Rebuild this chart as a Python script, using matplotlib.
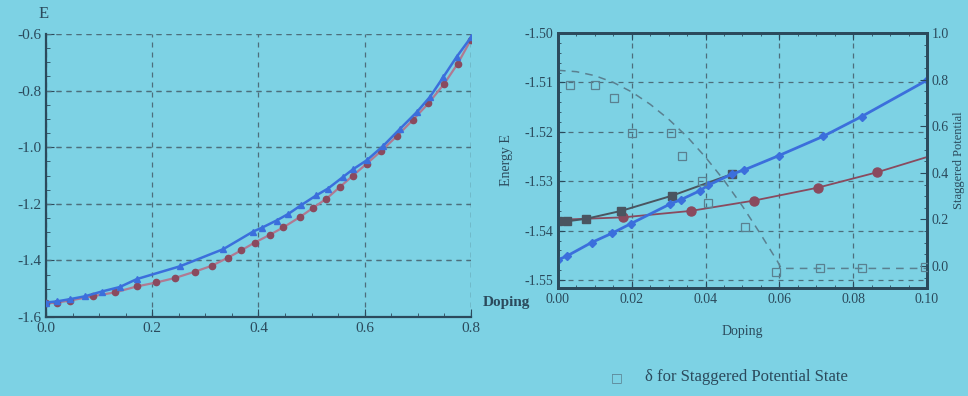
import matplotlib
matplotlib.use("Agg")
import matplotlib.pyplot as plt
from matplotlib.ticker import MultipleLocator

plt.rcParams['font.family'] = ['Liberation Serif', 'DejaVu Serif']

BG = '#7dd2e4'
INK = '#2b4a5c'
GRID = '#4d6e7c'
BLUE = '#3b6fdc'
MAROON = '#8a4a5e'
PINK = '#b07a92'
DARK = '#4a5560'
DELTA = '#5a8090'

# ---------------- left chart data ----------------
left_blue_x = [0.0, 0.02, 0.045, 0.073, 0.105, 0.139, 0.171, 0.252, 0.334, 0.39, 0.406,
               0.434, 0.456, 0.481, 0.509, 0.531, 0.56, 0.578, 0.604, 0.635, 0.666,
               0.698, 0.723, 0.748, 0.773, 0.8]
left_blue_y = [-1.549, -1.545, -1.537, -1.527, -1.510, -1.494, -1.466, -1.421, -1.360,
               -1.298, -1.285, -1.259, -1.236, -1.204, -1.170, -1.146, -1.104, -1.078,
               -1.046, -0.995, -0.936, -0.876, -0.822, -0.752, -0.681, -0.612]
left_red_x = [0.0, 0.02, 0.045, 0.089, 0.13, 0.171, 0.208, 0.243, 0.28, 0.312, 0.343,
              0.368, 0.393, 0.422, 0.447, 0.478, 0.503, 0.528, 0.553, 0.578, 0.604,
              0.63, 0.66, 0.69, 0.72, 0.75, 0.775, 0.8]
left_red_y = [-1.552, -1.549, -1.542, -1.526, -1.513, -1.492, -1.478, -1.462, -1.440,
              -1.419, -1.390, -1.364, -1.337, -1.309, -1.283, -1.247, -1.214, -1.182,
              -1.141, -1.100, -1.058, -1.015, -0.962, -0.905, -0.845, -0.775, -0.705,
              -0.62]
left_xticks = [0.0, 0.2, 0.4, 0.6, 0.8]
left_xticklabels = ['0.0', '0.2', '0.4', '0.6', '0.8']
left_yticks = [-1.6, -1.4, -1.2, -1.0, -0.8, -0.6]
left_yticklabels = ['-1.6', '-1.4', '-1.2', '-1.0', '-0.8', '-0.6']

# ---------------- right chart data ----------------
r_blue_x = [0.0, 0.0025, 0.0091, 0.0147, 0.0197, 0.0304, 0.0334, 0.0385, 0.0407,
            0.0473, 0.0505, 0.0599, 0.0719, 0.0823, 0.0999]
r_blue_y = [-1.5459, -1.5451, -1.5424, -1.5405, -1.5386, -1.5346, -1.5337, -1.5319,
            -1.5308, -1.5285, -1.5277, -1.5248, -1.5209, -1.5169, -1.5096]
r_dark_x = [0.0001, 0.0025, 0.0076, 0.0171, 0.031, 0.0473]
r_dark_y = [-1.5381, -1.5381, -1.5376, -1.5360, -1.5329, -1.5285]
r_red_x = [0.0, 0.0177, 0.036, 0.0532, 0.0704, 0.0864, 0.10]
r_red_y = [-1.5378, -1.5373, -1.5360, -1.5339, -1.5313, -1.5282, -1.5251]
r_red_marker_x = [0.0177, 0.036, 0.0532, 0.0704, 0.0864]
r_red_marker_y = [-1.5373, -1.5360, -1.5339, -1.5313, -1.5282]
delta_x = [0.0033, 0.0100, 0.0153, 0.0200, 0.0306, 0.0337, 0.0390, 0.0407, 0.0507,
           0.0591, 0.0710, 0.0823, 0.0995]
delta_y = [0.777, 0.777, 0.723, 0.571, 0.571, 0.472, 0.366, 0.269, 0.167,
           -0.024, -0.009, -0.009, -0.003]
delta_fit_x = [0.0, 0.005, 0.01, 0.015, 0.02, 0.025, 0.03, 0.035, 0.04, 0.045, 0.05,
               0.055, 0.0595, 0.0605, 0.10]
delta_fit_y = [0.84, 0.834, 0.817, 0.788, 0.747, 0.694, 0.63, 0.555, 0.467, 0.368,
               0.257, 0.135, 0.02, -0.01, -0.01]
right_xticks = [0.0, 0.02, 0.04, 0.06, 0.08, 0.10]
right_xticklabels = ['0.00', '0.02', '0.04', '0.06', '0.08', '0.10']
right_yticks = [-1.55, -1.54, -1.53, -1.52, -1.51, -1.50]
right_yticklabels = ['-1.55', '-1.54', '-1.53', '-1.52', '-1.51', '-1.50']
twin_yticks = [0.0, 0.2, 0.4, 0.6, 0.8, 1.0]
twin_yticklabels = ['0.0', '0.2', '0.4', '0.6', '0.8', '1.0']

fig = plt.figure(figsize=(9.68, 3.96), dpi=100, facecolor=BG)

# ---------------- left chart ----------------
ax1 = fig.add_axes([0.0475, 0.1995, 0.439, 0.7146])
ax1.set_facecolor(BG)
ax1.set_xlim(0, 0.8)
ax1.set_ylim(-1.6, -0.6)
for s in ['top', 'right']:
    ax1.spines[s].set_visible(False)
for s in ['left', 'bottom']:
    ax1.spines[s].set_color(INK)
    ax1.spines[s].set_linewidth(1.6)
ax1.set_xticks(left_xticks)
ax1.set_xticklabels(left_xticklabels)
ax1.set_yticks(left_yticks)
ax1.set_yticklabels(left_yticklabels)
ax1.xaxis.set_minor_locator(MultipleLocator(0.05))
ax1.yaxis.set_minor_locator(MultipleLocator(0.05))
ax1.tick_params(which='both', direction='in', colors=INK, labelsize=11)
ax1.tick_params(which='major', length=6)
ax1.tick_params(which='minor', length=3)
ax1.grid(True, which='major', linestyle=(0, (4, 4)), color=GRID, linewidth=0.9)
for v in left_yticks[1:]:
    ax1.axhline(v, color=GRID, linestyle=(0, (4, 4)), linewidth=0.9)
ax1.axvline(0.8, color=GRID, linestyle=(0, (4, 4)), linewidth=0.9)
ax1.plot(left_red_x, left_red_y, color=PINK, linewidth=1.6, zorder=3)
ax1.plot(left_red_x, left_red_y, linestyle='none', marker='o', markersize=4.5,
         color=MAROON, zorder=4)
ax1.plot(left_blue_x, left_blue_y, color=BLUE, linewidth=1.8, zorder=5)
ax1.plot(left_blue_x, left_blue_y, linestyle='none', marker='^', markersize=5,
         color=BLUE, zorder=6)
fig.text(0.045, 0.965, 'E', color=INK, fontsize=12, ha='center', va='center')
fig.text(0.499, 0.235, 'Doping', color=INK, fontsize=11, fontweight='bold',
         ha='left', va='center')

# ---------------- right chart ----------------
ax2 = fig.add_axes([0.5764, 0.2727, 0.3812, 0.644])
ax2.set_facecolor(BG)
ax2.set_xlim(0, 0.10)
ax2.set_ylim(-1.5516, -1.50)
for s in ax2.spines.values():
    s.set_color(INK)
    s.set_linewidth(2.0)
ax2.set_xticks(right_xticks)
ax2.set_xticklabels(right_xticklabels)
ax2.set_yticks(right_yticks)
ax2.set_yticklabels(right_yticklabels)
ax2.xaxis.set_minor_locator(MultipleLocator(0.005))
ax2.yaxis.set_minor_locator(MultipleLocator(0.002))
ax2.tick_params(which='both', direction='in', colors=INK, labelsize=10)
ax2.tick_params(which='both', top=True, right=False)
ax2.tick_params(which='major', length=5)
ax2.tick_params(which='minor', length=2.5)
ax2.grid(True, which='major', linestyle=(0, (4, 4)), color=GRID, linewidth=0.9)
ax2.set_xlabel('Doping', color=INK, fontsize=10, labelpad=14)
ax2.set_ylabel('Energy E', color=INK, fontsize=10, labelpad=8)

ax3 = ax2.twinx()
ax3.set_ylim(-0.094, 1.0)
ax3.set_yticks(twin_yticks)
ax3.set_yticklabels(twin_yticklabels)
ax3.yaxis.set_minor_locator(MultipleLocator(0.05))
ax3.tick_params(which='both', direction='in', colors=INK, labelsize=10)
ax3.tick_params(which='major', length=5)
ax3.tick_params(which='minor', length=2.5)
for s in ax3.spines.values():
    s.set_color(INK)
    s.set_linewidth(2.0)
ax3.set_ylabel('Staggered Potential', color=INK, fontsize=9, labelpad=3)

ax3.plot(delta_fit_x, delta_fit_y, color=DELTA, linestyle=(0, (5, 4)), linewidth=1.1,
         zorder=2)
ax3.plot(delta_x, delta_y, linestyle='none', marker='s', markersize=6,
         markerfacecolor='none', markeredgecolor=DELTA, markeredgewidth=0.9, zorder=3)

ax2.plot(r_red_x, r_red_y, color=MAROON, linewidth=1.3, zorder=3)
ax2.plot(r_red_marker_x, r_red_marker_y, linestyle='none', marker='o', markersize=6.5,
         color=MAROON, zorder=4)
ax2.plot(r_dark_x, r_dark_y, color=DARK, linewidth=1.4, marker='s', markersize=5.5,
         zorder=5)
ax2.plot(r_blue_x, r_blue_y, color=BLUE, linewidth=2.0, marker='D', markersize=4.5,
         zorder=6)

# bottom caption
fig.text(0.637, 0.047, '\u25a1', color=DELTA, fontsize=9, ha='center', va='center',
         family=['DejaVu Sans'])
fig.text(0.666, 0.047, '\u03b4 for Staggered Potential State', color=INK, fontsize=12,
         ha='left', va='center')

fig.savefig('out.png', dpi=100, facecolor=BG)
